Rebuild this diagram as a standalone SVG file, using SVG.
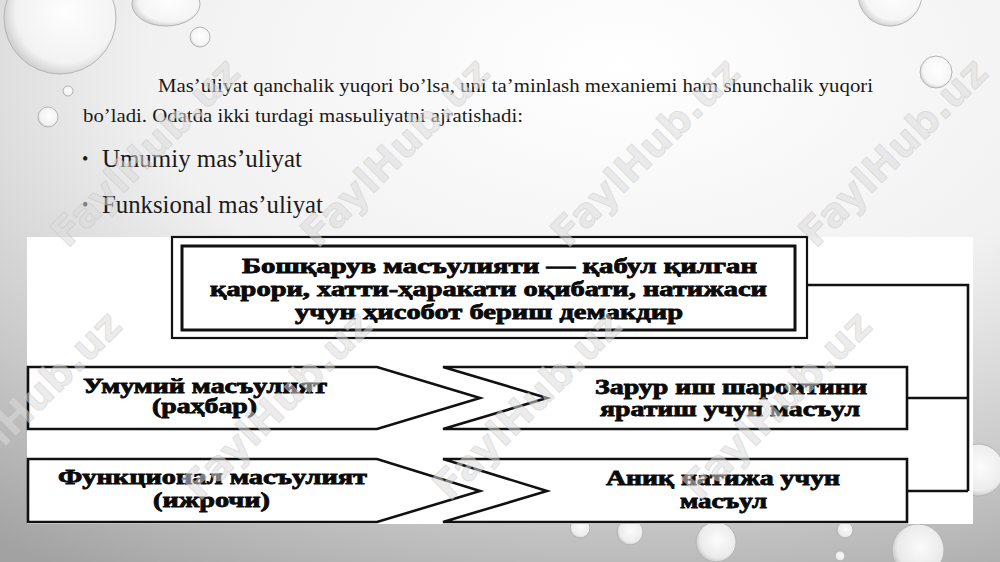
<svg xmlns="http://www.w3.org/2000/svg" width="1000" height="562" viewBox="0 0 1000 562">
<defs>
<radialGradient id="bg" cx="0.62" cy="0.12" r="1.05" gradientUnits="objectBoundingBox">
<stop offset="0" stop-color="#ffffff"/>
<stop offset="0.45" stop-color="#f1f1f1"/>
<stop offset="0.75" stop-color="#c9c9c9"/>
<stop offset="1" stop-color="#a2a2a2"/>
</radialGradient>
<radialGradient id="drop" cx="0.55" cy="0.45" r="0.6">
<stop offset="0" stop-color="#ffffff" stop-opacity="0.95"/>
<stop offset="0.75" stop-color="#f6f6f6" stop-opacity="0.8"/>
<stop offset="1" stop-color="#bdbdbd" stop-opacity="0.8"/>
</radialGradient>
<style>
.drop{fill:url(#drop);stroke:#b4b4b4;stroke-width:1}
.para{font-family:"Liberation Serif","Times New Roman",serif;fill:#1a1a1a}
.shape{fill:#ffffff;stroke:#111;stroke-width:2.6;stroke-linejoin:miter}
.lbl{font-family:"Liberation Serif","Times New Roman",serif;font-weight:bold;font-size:20px;fill:#0a0a0a;stroke:#0a0a0a;stroke-width:0.8}
.conn{fill:none;stroke:#111;stroke-width:2.6}
.wm{font-family:"DejaVu Sans",Verdana,sans-serif;font-weight:bold;font-size:40px;fill:#dcdcdc;fill-opacity:0.55;stroke:#b8b8b8;stroke-opacity:0.35;stroke-width:1}
</style>
</defs>

<g id="background">
<rect x="0" y="0" width="1000" height="562" fill="url(#bg)"/>
<ellipse class="drop" cx="60" cy="18" rx="56" ry="56"/>
<ellipse class="drop" cx="166" cy="4" rx="34" ry="22"/>
<circle class="drop" cx="200" cy="37" r="10"/>
<circle class="drop" cx="68" cy="91" r="5"/>
<circle class="drop" cx="48" cy="117" r="10"/>
<circle class="drop" cx="890" cy="-6" r="32"/>
<circle class="drop" cx="936" cy="72" r="16"/>
<circle class="drop" cx="978" cy="470" r="26"/>
<circle class="drop" cx="580" cy="528" r="10"/>
<circle class="drop" cx="630" cy="532" r="13"/>
<circle class="drop" cx="716" cy="542" r="20"/>
<circle class="drop" cx="845" cy="530" r="8"/>
<circle class="drop" cx="918" cy="550" r="26"/>
<circle class="drop" cx="840" cy="556" r="5"/>
</g>

<g id="intro-text">
<text class="para" x="158" y="92" font-size="19" textLength="715" lengthAdjust="spacingAndGlyphs">Mas’uliyat qanchalik yuqori bo’lsa, uni ta’minlash mexaniemi ham shunchalik yuqori</text>
<text class="para" x="83" y="122" font-size="19" textLength="440" lengthAdjust="spacingAndGlyphs">bo’ladi. Odatda ikki turdagi masьuliyatni ajratishadi:</text>
<text class="para" x="82" y="165" font-size="18" fill="#333">•</text>
<text class="para" x="102" y="167" font-size="25" textLength="200" lengthAdjust="spacingAndGlyphs" fill="#2a2a2a">Umumiy mas’uliyat</text>
<text class="para" x="82" y="211" font-size="18" fill="#333">•</text>
<text class="para" x="102" y="213" font-size="25" textLength="221" lengthAdjust="spacingAndGlyphs" fill="#2a2a2a">Funksional mas’uliyat</text>
</g>

<rect id="panel" x="27" y="237" width="946" height="287" fill="#ffffff"/>

<g id="connectors">
<path class="conn" d="M807 285 H968 V491"/>
<path class="conn" d="M907 398 H968"/>
<path class="conn" d="M907 491 H968"/>
</g>

<g id="node-top">
<rect x="172" y="237" width="635" height="101" fill="#fff" stroke="#111" stroke-width="2.2"/>
<rect x="182" y="246" width="613" height="84" fill="none" stroke="#111" stroke-width="3"/>
<text class="lbl" x="242" y="273" textLength="515" lengthAdjust="spacingAndGlyphs">Бошқарув масъулияти — қабул қилган</text>
<text class="lbl" x="210" y="296" textLength="557" lengthAdjust="spacingAndGlyphs">қарори, хатти-ҳаракати оқибати, натижаси</text>
<text class="lbl" x="295" y="319" textLength="388" lengthAdjust="spacingAndGlyphs">учун ҳисобот бериш демакдир</text>
</g>

<g id="node-general">
<path class="shape" d="M28 367 H377 L480 398 L377 429 H28 Z"/>
<text class="lbl" x="83" y="393" textLength="244" lengthAdjust="spacingAndGlyphs">Умумий масъулият</text>
<text class="lbl" x="152" y="413" textLength="105" lengthAdjust="spacingAndGlyphs">(раҳбар)</text>
</g>

<g id="node-functional">
<path class="shape" d="M28 459 H377 L480 491 L377 522 H28 Z"/>
<text class="lbl" x="58" y="484" textLength="309" lengthAdjust="spacingAndGlyphs">Функционал масъулият</text>
<text class="lbl" x="153" y="507" textLength="117" lengthAdjust="spacingAndGlyphs">(ижрочи)</text>
</g>

<g id="node-conditions">
<path class="shape" d="M443 367 H907 V429 H443 L547 398 Z"/>
<text class="lbl" x="595" y="394" textLength="272" lengthAdjust="spacingAndGlyphs">Зарур иш шароитини</text>
<text class="lbl" x="600" y="416" textLength="260" lengthAdjust="spacingAndGlyphs">яратиш учун масъул</text>
</g>

<g id="node-result">
<path class="shape" d="M443 459 H907 V522 H443 L547 491 Z"/>
<text class="lbl" x="606" y="485" textLength="234" lengthAdjust="spacingAndGlyphs">Аниқ натижа учун</text>
<text class="lbl" x="680" y="508" textLength="87" lengthAdjust="spacingAndGlyphs">масъул</text>
</g>

<g id="watermarks">
<text class="wm" transform="translate(145 152) rotate(-45)" text-anchor="middle" dy="14" textLength="247" lengthAdjust="spacingAndGlyphs">FaylHub.uz</text>
<text class="wm" transform="translate(395 152) rotate(-45)" text-anchor="middle" dy="14" textLength="247" lengthAdjust="spacingAndGlyphs">FaylHub.uz</text>
<text class="wm" transform="translate(645 152) rotate(-45)" text-anchor="middle" dy="14" textLength="247" lengthAdjust="spacingAndGlyphs">FaylHub.uz</text>
<text class="wm" transform="translate(893 152) rotate(-45)" text-anchor="middle" dy="14" textLength="247" lengthAdjust="spacingAndGlyphs">FaylHub.uz</text>
<text class="wm" transform="translate(27 405) rotate(-45)" text-anchor="middle" dy="14" textLength="247" lengthAdjust="spacingAndGlyphs">FaylHub.uz</text>
<text class="wm" transform="translate(277 405) rotate(-45)" text-anchor="middle" dy="14" textLength="247" lengthAdjust="spacingAndGlyphs">FaylHub.uz</text>
<text class="wm" transform="translate(527 405) rotate(-45)" text-anchor="middle" dy="14" textLength="247" lengthAdjust="spacingAndGlyphs">FaylHub.uz</text>
<text class="wm" transform="translate(777 405) rotate(-45)" text-anchor="middle" dy="14" textLength="247" lengthAdjust="spacingAndGlyphs">FaylHub.uz</text>
</g>
</svg>
